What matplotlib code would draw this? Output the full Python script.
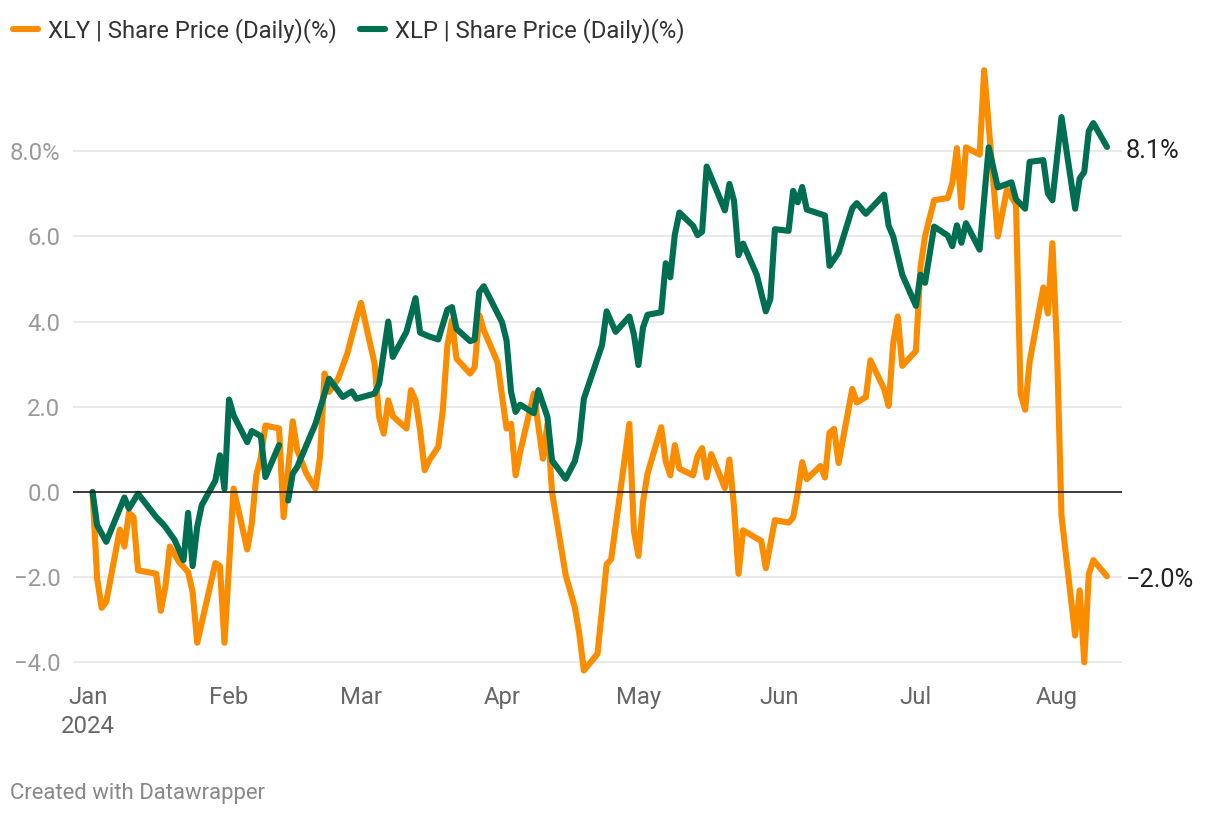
import matplotlib
matplotlib.use("Agg")
import matplotlib.pyplot as plt
import matplotlib.dates as mdates
from matplotlib.lines import Line2D
import numpy as np
import pandas as pd

# ---------------- data ----------------
series_names = ["XLY | Share Price (Daily)(%)", "XLP | Share Price (Daily)(%)"]

xly_dates = ["01-02", "01-03", "01-04", "01-05", "01-08", "01-09", "01-10", "01-11", "01-12",
             "01-16", "01-17", "01-18", "01-19", "01-21", "01-23", "01-24", "01-25", "01-29",
             "01-30", "01-31", "02-02", "02-05", "02-06", "02-07", "02-08", "02-09", "02-12",
             "02-13", "02-15", "02-16", "02-18", "02-20", "02-21", "02-22", "02-23", "02-25",
             "02-27", "02-29", "03-01", "03-04", "03-05", "03-06", "03-07", "03-08", "03-11",
             "03-12", "03-13", "03-14", "03-15", "03-16", "03-18", "03-19", "03-20", "03-21",
             "03-22", "03-25", "03-26", "03-27", "03-28", "03-31", "04-02", "04-03", "04-04",
             "04-05", "04-08", "04-10", "04-11", "04-12", "04-15", "04-17", "04-18", "04-19",
             "04-22", "04-24", "04-25", "04-27", "04-29", "04-30", "05-01", "05-02", "05-03",
             "05-06", "05-07", "05-08", "05-09", "05-10", "05-13", "05-14", "05-15", "05-16",
             "05-17", "05-20", "05-21", "05-22", "05-23", "05-24", "05-28", "05-29", "05-31",
             "06-03", "06-04", "06-05", "06-06", "06-07", "06-10", "06-11", "06-12", "06-13",
             "06-14", "06-17", "06-18", "06-20", "06-21", "06-24", "06-25", "06-26", "06-27",
             "06-28", "07-01", "07-02", "07-03", "07-05", "07-08", "07-09", "07-10", "07-11",
             "07-12", "07-15", "07-16", "07-19", "07-21", "07-23", "07-24", "07-25", "07-26",
             "07-29", "07-30", "07-31", "08-01", "08-02", "08-05", "08-06", "08-07", "08-08",
             "08-09", "08-12"]
xly_values = [0.0, -2.03, -2.72, -2.58, -0.88, -1.28, -0.49, -0.59, -1.84,
              -1.92, -2.79, -2.23, -1.28, -1.64, -1.88, -2.35, -3.54, -1.67,
              -1.74, -3.54, 0.08, -1.35, -0.74, 0.39, 0.82, 1.56, 1.49,
              -0.59, 1.66, 0.98, 0.43, 0.08, 0.82, 2.78, 2.35, 2.66,
              3.25, 4.07, 4.44, 3.01, 1.76, 1.37, 2.15, 1.78, 1.49,
              2.39, 2.15, 1.45, 0.51, 0.74, 1.06, 1.92, 3.44, 4.03,
              3.13, 2.78, 2.93, 4.15, 3.80, 3.05, 1.49, 1.60, 0.39,
              0.94, 2.31, 0.78, 1.60, 0.00, -1.95, -2.70, -3.33, -4.19,
              -3.80, -1.70, -1.58, 0.00, 1.60, -0.91, -1.50, -0.24, 0.43,
              1.52, 0.72, 0.39, 1.10, 0.55, 0.39, 0.85, 1.03, 0.34,
              0.89, 0.09, 0.76, -0.33, -1.92, -0.90, -1.15, -1.79, -0.66,
              -0.72, -0.60, -0.03, 0.70, 0.30, 0.61, 0.34, 1.39, 1.48,
              0.68, 2.42, 2.10, 2.23, 3.09, 2.42, 2.02, 3.49, 4.12,
              2.96, 3.31, 5.27, 6.00, 6.85, 6.90, 7.25, 8.07, 6.68,
              8.09, 7.92, 9.90, 6.00, 7.10, 6.75, 2.31, 1.93, 3.06,
              4.80, 4.19, 5.84, 3.39, -0.56, -3.37, -2.31, -4.00, -1.93,
              -1.60, -1.98]

xlp_dates = ["01-02", "01-03", "01-05", "01-09", "01-10", "01-12", "01-16", "01-17", "01-18",
             "01-20", "01-22", "01-23", "01-24", "01-25", "01-26", "01-29", "01-30", "01-31",
             "02-01", "02-02", "02-05", "02-06", "02-08", "02-09", "02-12", "02-13", "02-14",
             "02-15", "02-16", "02-20", "02-23", "02-26", "02-28", "02-29", "03-04", "03-05",
             "03-07", "03-08", "03-11", "03-13", "03-14", "03-16", "03-18", "03-20", "03-21",
             "03-22", "03-25", "03-26", "03-27", "03-28", "04-01", "04-02", "04-03", "04-04",
             "04-05", "04-08", "04-09", "04-11", "04-12", "04-15", "04-17", "04-18", "04-19",
             "04-23", "04-24", "04-26", "04-29", "04-30", "05-01", "05-02", "05-03", "05-06",
             "05-07", "05-08", "05-09", "05-10", "05-13", "05-14", "05-15", "05-16", "05-20",
             "05-21", "05-22", "05-23", "05-24", "05-27", "05-29", "05-30", "05-31", "06-03",
             "06-04", "06-05", "06-06", "06-07", "06-11", "06-12", "06-14", "06-17", "06-18",
             "06-20", "06-24", "06-25", "06-26", "06-28", "07-01", "07-02", "07-03", "07-05",
             "07-08", "07-09", "07-10", "07-11", "07-12", "07-15", "07-17", "07-19", "07-22",
             "07-23", "07-25", "07-26", "07-29", "07-30", "07-31", "08-02", "08-05", "08-06",
             "08-07", "08-08", "08-09", "08-12"]
xlp_values = [0.0, -0.78, -1.17, -0.13, -0.39, -0.04, -0.59, -0.70, -0.82,
              -1.12, -1.60, -0.49, -1.74, -0.82, -0.31, 0.27, 0.86, 0.07,
              2.17, 1.80, 1.17, 1.43, 1.31, 0.35, 1.10, np.nan, -0.20,
              0.43, 0.59, 1.60, 2.66, 2.23, 2.36, 2.19, 2.31, 2.54,
              4.00, 3.17, 3.76, 4.55, 3.74, 3.65, 3.58, 4.28, 4.34,
              3.83, 3.54, 3.58, 4.69, 4.83, 3.99, 3.56, 2.35, 1.88,
              2.05, 1.85, 2.39, 1.76, 0.74, 0.31, 0.72, 1.17, 2.19,
              3.45, 4.24, 3.76, 4.12, 3.70, 2.98, 3.86, 4.16, 4.22,
              5.37, 5.04, 6.04, 6.56, 6.25, 6.03, 6.11, 7.64, 6.61,
              7.23, 6.84, 5.56, 5.83, 5.10, 4.24, 4.53, 6.17, 6.13,
              7.07, 6.80, 7.16, 6.63, 6.49, 5.31, 5.62, 6.66, 6.78,
              6.53, 6.98, 6.25, 6.00, 5.10, 4.37, 5.10, 4.91, 6.23,
              6.02, 5.77, 6.26, 5.85, 6.31, 5.69, 8.09, 7.15, 7.27,
              6.87, 6.65, 7.75, 7.79, 7.01, 6.85, 8.80, 6.65, 7.36,
              7.51, 8.47, 8.66, 8.10]

month_ticks = ["2024-01-01", "2024-02-01", "2024-03-01", "2024-04-01",
               "2024-05-01", "2024-06-01", "2024-07-01", "2024-08-01"]
month_labels = ["Jan\n2024", "Feb", "Mar", "Apr", "May", "Jun", "Jul", "Aug"]
y_ticks = [-4, -2, 0, 2, 4, 6, 8]

# ---------------- style ----------------
ORANGE = "#fa8c00"
GREEN = "#006e51"
plt.rcParams["font.family"] = ["Roboto", "DejaVu Sans"]

W, H = 1220, 816
fig = plt.figure(figsize=(W / 100, H / 100), dpi=100)
left_px, right_px, top_px, bot_px = 73, 1122, 66, 679.4
ax = fig.add_axes([left_px / W, 1 - bot_px / H, (right_px - left_px) / W, (bot_px - top_px) / H])

xly_x = pd.to_datetime(["2024-" + d for d in xly_dates])
xlp_x = pd.to_datetime(["2024-" + d for d in xlp_dates])

lw = 4.4
ax.plot(xly_x, xly_values, color=ORANGE, lw=lw, solid_joinstyle="round",
        solid_capstyle="round", zorder=3)
ax.plot(xlp_x, xlp_values, color=GREEN, lw=lw, solid_joinstyle="round",
        solid_capstyle="round", zorder=4)

base = pd.Timestamp("2024-01-01")
ax.set_xlim(mdates.date2num(base - pd.Timedelta(days=3.3)),
            mdates.date2num(base + pd.Timedelta(days=227.3)))
ax.set_ylim(-4.4, 10.0)

# grid
for yv in y_ticks:
    if yv == 0:
        ax.axhline(0, color="#1a1a1a", lw=1.2, zorder=5)
    else:
        ax.axhline(yv, color="#e3e3e3", lw=1.1, zorder=1)

for s in ax.spines.values():
    s.set_visible(False)

TICK_FS = 17.2
ax.set_yticks(y_ticks)
ylabels = []
for i, v in enumerate(y_ticks):
    s = f"{v:.1f}".replace("-", "\u2212")
    if i == len(y_ticks) - 1:
        s += "%"
    ylabels.append(s)
ax.set_yticklabels(ylabels)
ax.tick_params(axis="y", length=0, pad=9, labelsize=TICK_FS, labelcolor="#9a9a9a")

ax.set_xticks(mdates.date2num(pd.to_datetime(month_ticks)))
ax.set_xticklabels(month_labels, linespacing=1.3)
ax.tick_params(axis="x", length=0, pad=5, labelsize=TICK_FS, labelcolor="#666666")

# end labels
for xs, vs, c in [(xly_x, xly_values, ORANGE), (xlp_x, xlp_values, GREEN)]:
    v = vs[-1]
    txt = f"{v:.1f}%".replace("-", "\u2212")
    ax.annotate(txt, xy=(mdates.date2num(xs[-1]), v), xytext=(13.5, -3),
                textcoords="offset points", va="center", ha="left",
                fontsize=18.3, color="#222222", annotation_clip=False)

# legend
handles = [Line2D([0], [0], color=ORANGE, lw=lw, solid_capstyle="round"),
           Line2D([0], [0], color=GREEN, lw=lw, solid_capstyle="round")]
fig.legend(handles, series_names, loc="upper left", bbox_to_anchor=(13 / W, 1 - 18 / H),
           ncol=2, frameon=False, fontsize=TICK_FS, handlelength=1.05, handletextpad=0.4,
           columnspacing=1.0, borderpad=0, borderaxespad=0, labelcolor="#333333")

fig.text(10 / W, 1 - 793 / H, "Created with Datawrapper", fontsize=15.9, color="#888888",
         ha="left", va="center")

fig.savefig("out.png", dpi=100)
